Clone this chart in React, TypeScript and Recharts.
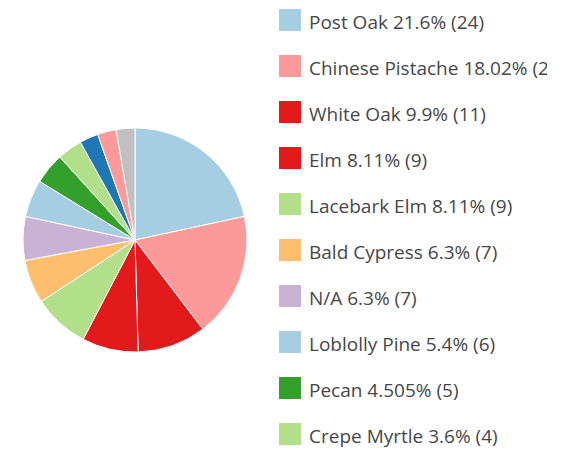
import { PieChart, Pie, Cell, Legend } from 'recharts';

const species = [
  'Post Oak',
  'Chinese Pistache',
  'White Oak',
  'Elm',
  'Lacebark Elm',
  'Bald Cypress',
  'N/A',
  'Loblolly Pine',
  'Pecan',
  'Crepe Myrtle',
  'Live Oak',
  'Red Oak',
  'Other',
];

const counts = [24, 20, 11, 9, 9, 7, 7, 6, 5, 4, 3, 3, 3];

const percentLabels = [
  '21.6%',
  '18.02%',
  '9.9%',
  '8.11%',
  '8.11%',
  '6.3%',
  '6.3%',
  '5.4%',
  '4.505%',
  '3.6%',
  '2.7%',
  '2.7%',
  '2.7%',
];

const colors = [
  '#a6cee3',
  '#fb9a99',
  '#e31a1c',
  '#e31a1c',
  '#b2df8a',
  '#fdbf6f',
  '#cab2d6',
  '#a6cee3',
  '#33a02c',
  '#b2df8a',
  '#1f78b4',
  '#fb9a99',
  '#c0c0c0',
];

const data = species.map((name, i) => ({ name, value: counts[i] }));

function TreeLegend() {
  return (
    <div
      style={{
        fontFamily: '"Open Sans", sans-serif',
        fontSize: 19,
        color: '#474747',
        width: 268,
        overflow: 'hidden',
      }}
    >
      {data.map((d, i) => (
        <div key={d.name} style={{ display: 'flex', alignItems: 'center', height: 46, whiteSpace: 'nowrap' }}>
          <span style={{ width: 22, height: 22, background: colors[i], flex: 'none', marginRight: 8 }} />
          <span style={{ position: 'relative', top: 2 }}>
            {d.name} {percentLabels[i]} ({d.value})
          </span>
        </div>
      ))}
    </div>
  );
}

export default function App() {
  return (
    <div style={{ width: 539, height: 445, overflow: 'hidden', position: 'relative' }}>
      <PieChart
        width={539}
        height={445}
        margin={{ top: 0, right: 0, bottom: 0, left: 0 }}
        style={{ overflow: 'hidden' }}
      >
        <Pie
          data={data}
          dataKey="value"
          nameKey="name"
          cx={127}
          cy={232}
          outerRadius={112}
          startAngle={90}
          endAngle={-270}
          stroke="#fff"
          strokeWidth={1}
          isAnimationActive={false}
        >
          {data.map((d, i) => (
            <Cell key={d.name} fill={colors[i]} />
          ))}
        </Pie>
        <Legend
          content={<TreeLegend />}
          wrapperStyle={{ position: 'absolute', left: 271, top: -11, width: 268, overflow: 'hidden' }}
        />
      </PieChart>
    </div>
  );
}
